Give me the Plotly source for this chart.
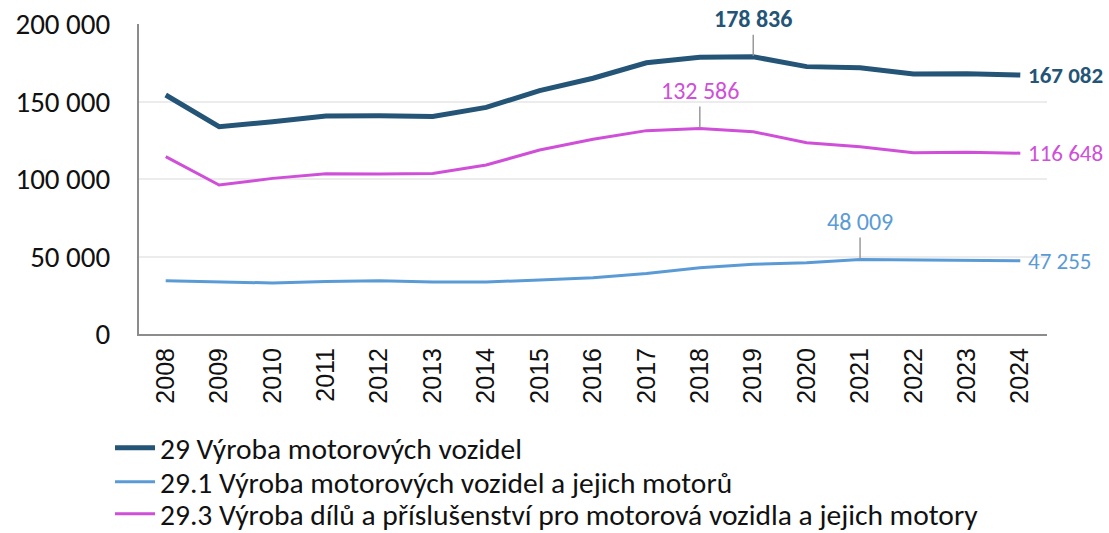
import plotly.graph_objects as go

years = [str(y) for y in range(2008, 2025)]

# 29 Výroba motorových vozidel
total_29 = [154200, 133700, 137000, 140600, 140800, 140300, 146200, 157000, 165000,
            175000, 178500, 178836, 172500, 171700, 167700, 167900, 167082]
# 29.1 Výroba motorových vozidel a jejich motorů
sub_29_1 = [34400, 33500, 32900, 33800, 34400, 33500, 33600, 34800, 36300,
            39100, 42800, 45000, 46000, 48009, 47700, 47500, 47255]
# 29.3 Výroba dílů a příslušenství pro motorová vozidla a jejich motory
sub_29_3 = [114400, 96100, 100400, 103400, 103200, 103600, 109000, 118700, 125600,
            131200, 132586, 130500, 123400, 120800, 117000, 117300, 116648]

names = [
    "29 Výroba motorových vozidel",
    "29.1 Výroba motorových vozidel a jejich motorů",
    "29.3 Výroba dílů a příslušenství pro motorová vozidla a jejich motory",
]
colors = ["#245577", "#5B9BD5", "#CF4FD8"]
widths = [5, 3, 3]
series = [total_29, sub_29_1, sub_29_3]
legend_ids = ["legend", "legend2", "legend3"]

FONT = "Carlito, Lato, sans-serif"

fig = go.Figure()
for name, vals, col, w, lg in zip(names, series, colors, widths, legend_ids):
    fig.add_trace(go.Scatter(
        x=years, y=vals, mode="lines", name=name, legend=lg,
        line=dict(color=col, width=w),
    ))


def fmt(v):
    return f"{v:,}".replace(",", " ")


# peak labels with leader lines (x given as category index)
peaks = [(total_29, colors[0], True), (sub_29_3, colors[2], False), (sub_29_1, colors[1], False)]
for vals, col, bold in peaks:
    i = vals.index(max(vals))
    txt = fmt(vals[i])
    fig.add_annotation(
        x=i, y=vals[i], text=f"<b>{txt}</b>" if bold else txt,
        showarrow=True, arrowhead=0, arrowwidth=1.5, arrowcolor="#9a9a9a",
        ax=0, ay=-38, standoff=1,
        font=dict(family=FONT, size=24, color=col),
    )

# end labels
for vals, col, bold in zip(series, colors, [True, False, False]):
    txt = fmt(vals[-1])
    fig.add_annotation(
        x=len(years) - 1, y=vals[-1], text=f"<b>{txt}</b>" if bold else txt,
        showarrow=False, xanchor="left", xshift=6,
        font=dict(family=FONT, size=23, color=col),
    )

W, H = 1109, 533
legend_style = dict(
    orientation="v", xref="container", x=0.0992, xanchor="left",
    yref="container", yanchor="middle",
    font=dict(family=FONT, size=29.5, color="#111"),
    itemwidth=40, bgcolor="rgba(0,0,0,0)",
)
row_y = [448, 482, 514]

fig.update_layout(
    width=W, height=H,
    margin=dict(l=139, r=62, t=24, b=199, autoexpand=False),
    paper_bgcolor="white", plot_bgcolor="white",
    separators=", ",
    showlegend=True,
    legend=dict(legend_style, y=1 - row_y[0] / H),
    legend2=dict(legend_style, y=1 - row_y[1] / H),
    legend3=dict(legend_style, y=1 - row_y[2] / H),
    xaxis=dict(
        type="category", range=[-0.5, len(years) - 0.5],
        showgrid=False, showline=True, linecolor="#8c8c8c", linewidth=2,
        tickangle=-90, tickfont=dict(family="Liberation Sans, Arial", size=25, color="#111"),
        ticks="", ticklabelstandoff=2,
    ),
    yaxis=dict(
        range=[0, 200000], tickvals=[0, 50000, 100000, 150000, 200000],
        tickformat=",d", showgrid=True, gridcolor="#ececec", gridwidth=1.5,
        showline=True, linecolor="#8c8c8c", linewidth=2, zeroline=False,
        tickfont=dict(family=FONT, size=29, color="#111"), ticks="", ticklabelstandoff=21,
    ),
)

# drop the default page margin so the figure fills the window exactly
fig.write_html("out.html", config={"displayModeBar": False},
               post_script="document.body.style.margin='0';")
